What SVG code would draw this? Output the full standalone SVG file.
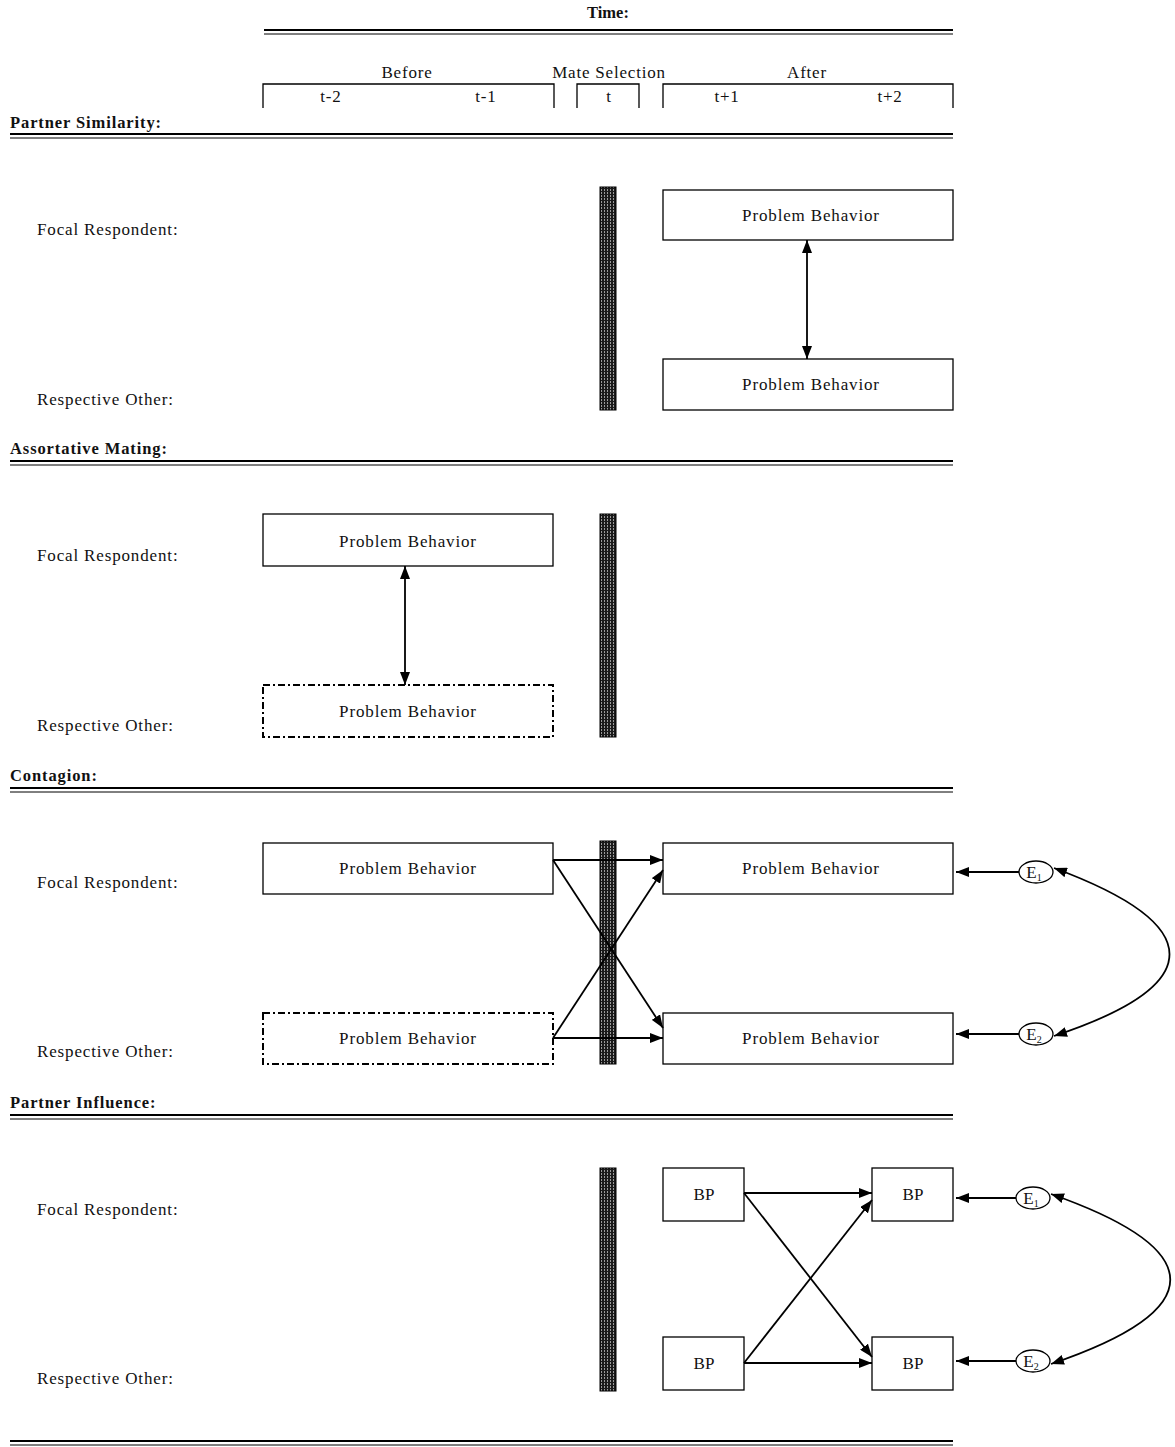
<svg xmlns="http://www.w3.org/2000/svg" width="1175" height="1447" viewBox="0 0 1175 1447">
<style>
text{font-family:"Liberation Serif","Times New Roman",serif;fill:#111}
.lbl{font-size:17px;letter-spacing:0.85px}
.hd{font-size:16.5px;font-weight:bold;letter-spacing:0.9px}
.sm{font-size:17px;letter-spacing:0.8px}
.bp{font-size:17px}
.e{font-size:17px}
.box{fill:#fff;stroke:#000;stroke-width:1.3}
.dbox{fill:#fff;stroke:#000;stroke-width:2;stroke-dasharray:7 3 2 3}
.dl1{stroke:#000;stroke-width:2.2}
.dl2{stroke:#000;stroke-width:1}
.br{fill:none;stroke:#000;stroke-width:1.3}
.bar{fill:url(#barpat);stroke:#000;stroke-width:1}
.ar{fill:none;stroke:#000;stroke-width:1.8;marker-end:url(#ah)}
.ar2{fill:none;stroke:#000;stroke-width:1.8;marker-start:url(#ah);marker-end:url(#ah)}
.ell{fill:#fff;stroke:#000;stroke-width:1.3}
.mid{text-anchor:middle}
</style>
<defs>
<pattern id="barpat" x="0" y="0" width="3" height="3" patternUnits="userSpaceOnUse">
<rect width="3" height="3" fill="#1a1a1a"/>
<rect x="1" y="0" width="1" height="2" fill="#9a9a9a"/>
</pattern>
<marker id="ah" viewBox="0 0 13 10" refX="13" refY="5" markerWidth="13" markerHeight="10" markerUnits="userSpaceOnUse" orient="auto-start-reverse">
<path d="M0,0 L13,5 L0,10 Z" fill="#000"/>
</marker>
</defs>

<g id="header">
<text class="hd mid" x="608" y="18" style="letter-spacing:0">Time:</text>
<line class="dl1" x1="264" y1="30" x2="953" y2="30"/>
<line class="dl2" x1="264" y1="34" x2="953" y2="34"/>
<text class="sm mid" x="407" y="78">Before</text>
<text class="sm mid" x="609" y="78">Mate Selection</text>
<text class="sm mid" x="807" y="78">After</text>
<path class="br" d="M263,108 V84 H554 V108"/>
<path class="br" d="M577,108 V84 H639 V108"/>
<path class="br" d="M663,108 V84 H953 V108"/>
<text class="sm mid" x="331" y="102">t-2</text>
<text class="sm mid" x="486" y="102">t-1</text>
<text class="sm mid" x="609" y="102">t</text>
<text class="sm mid" x="727" y="102">t+1</text>
<text class="sm mid" x="890" y="102">t+2</text>
</g>

<!-- Section 1: Partner Similarity -->
<g id="sec-partner-similarity">
<text class="hd" x="10" y="128">Partner Similarity:</text>
<line class="dl1" x1="10" y1="134" x2="953" y2="134"/>
<line class="dl2" x1="10" y1="138" x2="953" y2="138"/>
<text class="lbl" x="37" y="235">Focal Respondent:</text>
<text class="lbl" x="37" y="405">Respective Other:</text>
<rect class="bar" x="600" y="187" width="16" height="223"/>
</g>
<g id="ps-focal"><rect class="box" x="663" y="190" width="290" height="50"/><text class="lbl mid" x="811" y="221">Problem Behavior</text></g>
<g id="ps-other"><rect class="box" x="663" y="359" width="290" height="51"/><text class="lbl mid" x="811" y="390">Problem Behavior</text></g>

<!-- Section 2: Assortative Mating -->
<g id="sec-assortative-mating">
<text class="hd" x="10" y="454">Assortative Mating:</text>
<line class="dl1" x1="10" y1="461" x2="953" y2="461"/>
<line class="dl2" x1="10" y1="465" x2="953" y2="465"/>
<text class="lbl" x="37" y="561">Focal Respondent:</text>
<text class="lbl" x="37" y="731">Respective Other:</text>
<rect class="bar" x="600" y="514" width="16" height="223"/>
</g>
<g id="am-focal"><rect class="box" x="263" y="514" width="290" height="52"/><text class="lbl mid" x="408" y="547">Problem Behavior</text></g>
<g id="am-other"><rect class="dbox" x="263" y="685" width="290" height="52"/><text class="lbl mid" x="408" y="717">Problem Behavior</text></g>

<!-- Section 3: Contagion -->
<g id="sec-contagion">
<text class="hd" x="10" y="781">Contagion:</text>
<line class="dl1" x1="10" y1="788" x2="953" y2="788"/>
<line class="dl2" x1="10" y1="792" x2="953" y2="792"/>
<text class="lbl" x="37" y="888">Focal Respondent:</text>
<text class="lbl" x="37" y="1057">Respective Other:</text>
<rect class="bar" x="600" y="841" width="16" height="223"/>
</g>
<g id="c-focal-before"><rect class="box" x="263" y="843" width="290" height="51"/><text class="lbl mid" x="408" y="874">Problem Behavior</text></g>
<g id="c-other-before"><rect class="dbox" x="263" y="1013" width="290" height="51"/><text class="lbl mid" x="408" y="1044">Problem Behavior</text></g>
<g id="c-focal-after"><rect class="box" x="663" y="843" width="290" height="51"/><text class="lbl mid" x="811" y="874">Problem Behavior</text></g>
<g id="c-other-after"><rect class="box" x="663" y="1013" width="290" height="51"/><text class="lbl mid" x="811" y="1044">Problem Behavior</text></g>
<g id="c-e1"><ellipse class="ell" cx="1036" cy="872" rx="17" ry="11"/><text class="e mid" x="1034" y="878">E<tspan font-size="10" dy="3">1</tspan></text></g>
<g id="c-e2"><ellipse class="ell" cx="1036" cy="1034" rx="17" ry="11"/><text class="e mid" x="1034" y="1040">E<tspan font-size="10" dy="3">2</tspan></text></g>

<!-- Section 4: Partner Influence -->
<g id="sec-partner-influence">
<text class="hd" x="10" y="1108">Partner Influence:</text>
<line class="dl1" x1="10" y1="1115" x2="953" y2="1115"/>
<line class="dl2" x1="10" y1="1119" x2="953" y2="1119"/>
<text class="lbl" x="37" y="1215">Focal Respondent:</text>
<text class="lbl" x="37" y="1384">Respective Other:</text>
<rect class="bar" x="600" y="1168" width="16" height="223"/>
</g>
<g id="pi-focal-before"><rect class="box" x="663" y="1168" width="81" height="53"/><text class="bp mid" x="704" y="1200">BP</text></g>
<g id="pi-other-before"><rect class="box" x="663" y="1337" width="81" height="53"/><text class="bp mid" x="704" y="1369">BP</text></g>
<g id="pi-focal-after"><rect class="box" x="872" y="1168" width="81" height="53"/><text class="bp mid" x="913" y="1200">BP</text></g>
<g id="pi-other-after"><rect class="box" x="872" y="1337" width="81" height="53"/><text class="bp mid" x="913" y="1369">BP</text></g>
<g id="pi-e1"><ellipse class="ell" cx="1033" cy="1198" rx="17" ry="11"/><text class="e mid" x="1031" y="1204">E<tspan font-size="10" dy="3">1</tspan></text></g>
<g id="pi-e2"><ellipse class="ell" cx="1033" cy="1361" rx="17" ry="11"/><text class="e mid" x="1031" y="1367">E<tspan font-size="10" dy="3">2</tspan></text></g>

<g id="footer">
<line class="dl1" x1="10" y1="1441" x2="953" y2="1441"/>
<line class="dl2" x1="10" y1="1445" x2="953" y2="1445"/>
</g>

<g id="connectors">
<line class="ar2" x1="807" y1="240" x2="807" y2="359"/>
<line class="ar2" x1="405" y1="566" x2="405" y2="685"/>
<line class="ar" x1="553" y1="860" x2="663" y2="860"/>
<line class="ar" x1="553" y1="860" x2="663" y2="1028"/>
<line class="ar" x1="553" y1="1038" x2="663" y2="1038"/>
<line class="ar" x1="553" y1="1038" x2="663" y2="870"/>
<line class="ar" x1="1019" y1="872" x2="956" y2="872"/>
<line class="ar" x1="1019" y1="1034" x2="956" y2="1034"/>
<path class="ar2" d="M1054,868 C1208,925 1208,985 1054,1036"/>
<line class="ar" x1="744" y1="1193" x2="872" y2="1193"/>
<line class="ar" x1="744" y1="1193" x2="872" y2="1357"/>
<line class="ar" x1="744" y1="1363" x2="872" y2="1363"/>
<line class="ar" x1="744" y1="1363" x2="872" y2="1200"/>
<line class="ar" x1="1016" y1="1198" x2="956" y2="1198"/>
<line class="ar" x1="1016" y1="1361" x2="956" y2="1361"/>
<path class="ar2" d="M1051,1194 C1210,1250 1210,1310 1051,1364"/>
</g>
</svg>
